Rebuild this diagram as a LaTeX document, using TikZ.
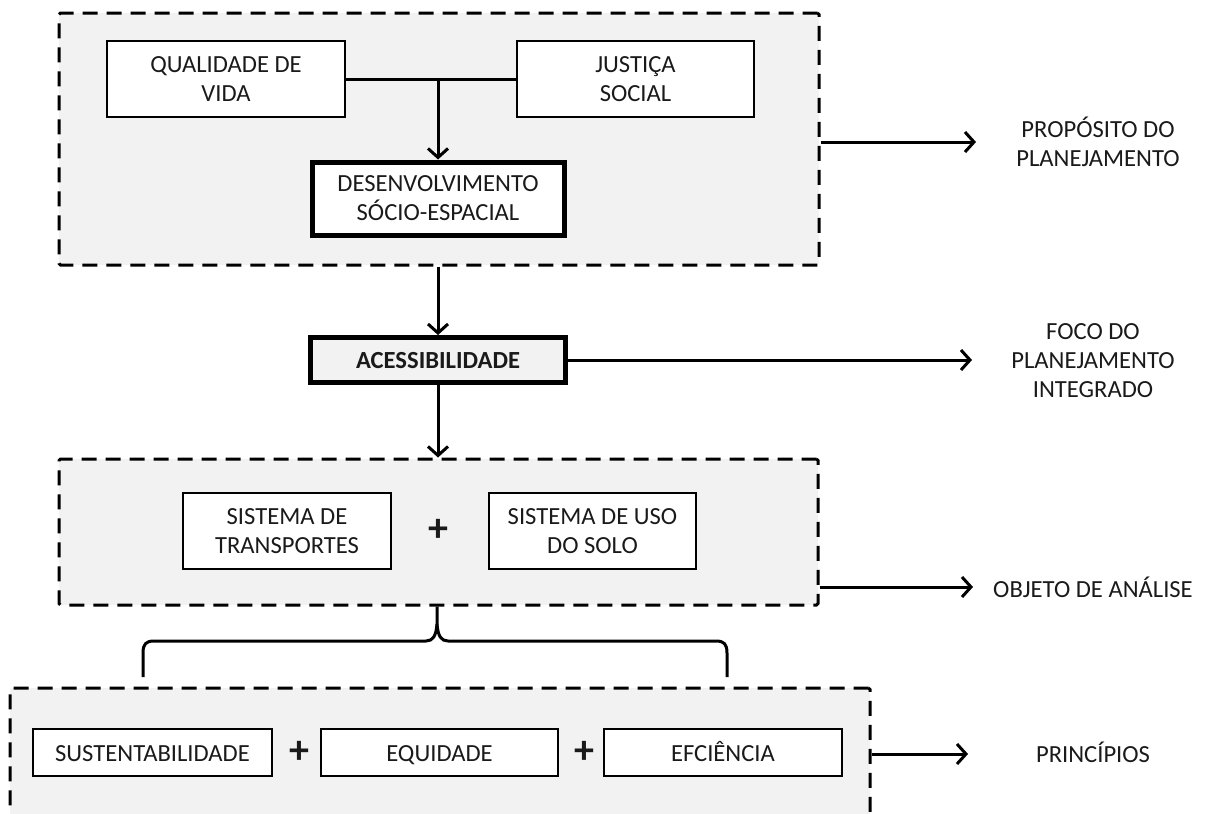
\documentclass[tikz,border=0pt]{standalone}
\usepackage{fontspec}
\setmainfont{Carlito}
\usetikzlibrary{arrows.meta,calc}
\definecolor{panel}{HTML}{F2F2F2}
\definecolor{ink}{HTML}{1A1A1A}

\begin{document}
\begin{tikzpicture}[x=1pt,y=-1pt,
  font=\fontsize{24.6}{29}\selectfont,
  group/.style={draw=black, fill=panel, line width=3pt, dash pattern=on 15pt off 9pt,
                rounded corners=1.5pt, inner sep=0pt},
  item/.style={draw=black, fill=white, line width=2pt, inner sep=0pt, align=center, text=ink},
  keybox/.style={item, line width=5pt},
  oneline/.style={text height=17.5pt, text depth=0pt},
  plussign/.style={font=\fontsize{40}{40}\selectfont\bfseries, inner sep=0pt, text=ink},
  side/.style={align=center, text=ink, inner sep=0pt},
  arr/.style={line width=3pt, -{Straight Barb[length=9pt,width=20pt]}},
  link/.style={line width=3pt},
]
\useasboundingbox (0,0) rectangle (1205,814);
\clip (0,0) rectangle (1205,814);

% ---- planning purpose block
\node[group, minimum width=760, minimum height=252] (grpA) at (439,139) {};
\node[item, minimum width=238, minimum height=76] (qual) at (226,79) {QUALIDADE DE\\VIDA};
\node[item, minimum width=237, minimum height=76] (just) at (635.5,79) {JUSTIÇA\\SOCIAL};
\node[keybox, minimum width=252, minimum height=73] (desen) at (438,198.5) {DESENVOLVIMENTO\\SÓCIO-ESPACIAL};

\draw[link] (qual.east) -- (just.west);
\draw[arr] (desen.north |- qual.east) -- (desen.north);

% ---- focus
\node[keybox, oneline, fill=panel, minimum width=255, minimum height=45,
      font=\fontsize{24.6}{29}\selectfont\bfseries] (acess) at (438,360) {ACESSIBILIDADE};
\draw[arr] (acess.north |- grpA.south) -- (acess.north);

% ---- object of analysis
\node[group, minimum width=759, minimum height=146] (grpB) at (438.5,532) {};
\node[item, minimum width=208, minimum height=76] (trans) at (287,531) {SISTEMA DE\\TRANSPORTES};
\node[plussign] (p1) at (438,530) {+};
\node[item, minimum width=207, minimum height=76] (uso) at (592.5,531) {SISTEMA DE USO\\DO SOLO};
\draw[arr] (acess.south) -- (acess.south |- grpB.north);

% ---- principles
\node[group, minimum width=860, minimum height=200] (grpC) at (440,788) {};
\node[item, oneline, minimum width=239, minimum height=47] (sust) at (152.5,752.5) {SUSTENTABILIDADE};
\node[plussign] (p2) at (299,752) {+};
\node[item, oneline, minimum width=237, minimum height=47] (equi) at (439.5,752.5) {EQUIDADE};
\node[plussign] (p3) at (584,752) {+};
\node[item, oneline, minimum width=238, minimum height=47] (efic) at (723,752.5) {EFCIÊNCIA};

% ---- brace joining the analysis block to the principles
\coordinate (braceL) at (143,677);
\coordinate (braceR) at (727,677);
\draw[link, line join=round] (braceL) -- (143,653) .. controls (143,644) and (146,641) .. (154,641)
  -- (426,641) .. controls (433,641) and (436,636) .. (437,624) -- (grpB.south -| 437,0);
\draw[link, line join=round] (braceR) -- (727,653) .. controls (727,644) and (724,641) .. (716,641)
  -- (448,641) .. controls (441,641) and (438,636) .. (437,624);

% ---- side labels
\node[side] (lab1) at (1098,142) {PROPÓSITO DO\\PLANEJAMENTO};
\node[side] (lab2) at (1093,361) {FOCO DO\\PLANEJAMENTO\\INTEGRADO};
\node[side, oneline] (lab3) at (1093,589) {OBJETO DE ANÁLISE};
\node[side, oneline] (lab4) at (1093,754) {PRINCÍPIOS};

\coordinate (e1) at (976,142);
\coordinate (e2) at (972,360);
\coordinate (e3) at (973,587);
\coordinate (e4) at (968,754);
\draw[arr] (grpA.east |- e1) -- (e1);
\draw[arr] (acess.east) -- (e2);
\draw[arr] (grpB.east |- e3) -- (e3);
\draw[arr] (grpC.east |- e4) -- (e4);
\end{tikzpicture}
\end{document}
